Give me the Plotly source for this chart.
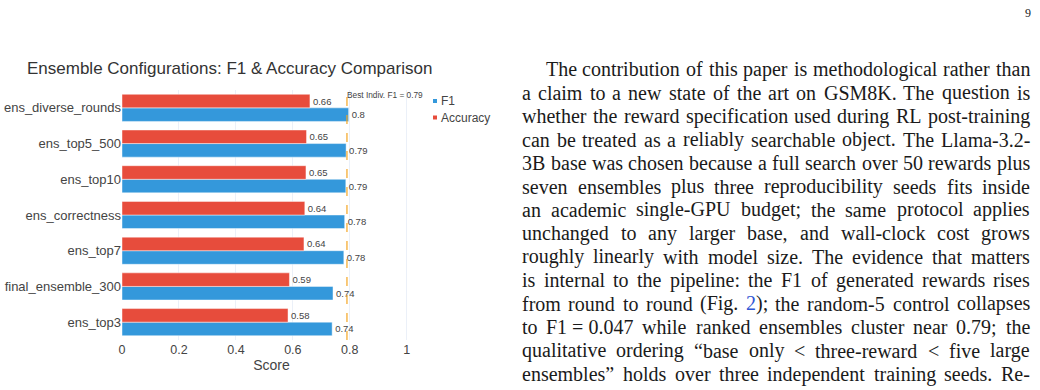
import html
import plotly.graph_objects as go

# ---------------- data ----------------
categories = ["ens_top3", "final_ensemble_300", "ens_top7", "ens_correctness",
              "ens_top10", "ens_top5_500", "ens_diverse_rounds"]
f1_scores = [0.738, 0.741, 0.779, 0.782, 0.786, 0.787, 0.796]
acc_scores = [0.583, 0.588, 0.639, 0.642, 0.646, 0.648, 0.660]
best_indiv_f1 = 0.79
x_tick_values = [0, 0.2, 0.4, 0.6, 0.8, 1]
x_tick_labels = ["0", "0.2", "0.4", "0.6", "0.8", "1"]
series_names = ["F1", "Accuracy"]
series_colors = ["#3498db", "#e74c3c"]
title_text = "Ensemble Configurations: F1 &amp; Accuracy Comparison"
x_title = "Score"
best_label = "Best Indiv. F1 = 0.79"
page_number = "9"
paragraph_lines = [
    "The contribution of this paper is methodological rather than",
    "a claim to a new state of the art on GSM8K. The question is",
    "whether the reward specification used during RL post-training",
    "can be treated as a reliably searchable object. The Llama-3.2-",
    "3B base was chosen because a full search over 50 rewards plus",
    "seven ensembles plus three reproducibility seeds fits inside",
    "an academic single-GPU budget; the same protocol applies",
    "unchanged to any larger base, and wall-clock cost grows",
    "roughly linearly with model size. The evidence that matters",
    "is internal to the pipeline: the F1 of generated rewards rises",
    "from round to round (Fig. 2); the random-5 control collapses",
    "to F1\u00a0=\u00a00.047 while ranked ensembles cluster near 0.79; the",
    "qualitative ordering \u201cbase only < three-reward < five large",
    "ensembles\u201d holds over three independent training seeds. Re-",
]

# ---------------- layout geometry ----------------
W, H = 1040, 390
ML, MR, MT, MB = 122, 619, 90, 50
PW = W - ML - MR
PH = H - MT - MB


def px_x(px):
    return (px - ML) / PW


def px_y(py):
    return (H - MB - py) / PH


fig = go.Figure()
for name, vals, col in zip(series_names, [f1_scores, acc_scores], series_colors):
    fig.add_trace(go.Bar(
        y=categories, x=vals, orientation="h", name=name,
        marker=dict(color=col, line=dict(color="rgba(255,255,255,0.45)", width=1)),
        texttemplate="%{x:.2~f}", textposition="outside",
        textfont=dict(size=9.5, color="#444"),
        constraintext="none", cliponaxis=False, showlegend=False,
    ))

fig.add_shape(type="line", xref="x", yref="paper", x0=best_indiv_f1, x1=best_indiv_f1,
              y0=0, y1=1, line=dict(color="#f5a623", width=1.2, dash="dash"))

annotations = [dict(x=best_indiv_f1, y=1.0, xref="x", yref="paper", text=best_label,
                    showarrow=False, xanchor="left", yanchor="top",
                    font=dict(size=8.3, color="#444"), borderpad=0, borderwidth=0)]

# manual legend
legend_y = [101, 117.5]
for name, col, ly in zip(series_names, series_colors, legend_y):
    fig.add_shape(type="rect", xref="paper", yref="paper",
                  x0=px_x(433), x1=px_x(437), y0=px_y(ly + 2), y1=px_y(ly - 2),
                  fillcolor=col, line=dict(width=0))
    annotations.append(dict(x=px_x(441), y=px_y(ly), xref="paper", yref="paper",
                            text=name, showarrow=False, xanchor="left", yanchor="middle",
                            font=dict(size=12, color="#444"), borderpad=0, borderwidth=0))

# ---------------- paragraph text (justified) ----------------
TIMES = {' ': 250, '\u00a0': 250, '.': 250, ',': 250, ';': 278, ':': 278, '-': 333,
         '(': 333, ')': 333, '=': 564, '<': 564, '\u201c': 444, '\u201d': 444}
TIMES.update(dict(zip("abcdefghijklmnopqrstuvwxyz",
                      [444, 500, 444, 500, 444, 333, 500, 500, 278, 278, 500, 278, 778,
                       500, 500, 500, 500, 333, 389, 278, 500, 500, 722, 500, 500, 444])))
TIMES.update(dict(zip("ABCDEFGHIJKLMNOPQRSTUVWXYZ",
                      [722, 667, 667, 722, 611, 556, 722, 722, 333, 389, 722, 611, 889,
                       722, 722, 556, 722, 667, 556, 611, 722, 722, 944, 722, 722, 611])))
TIMES.update({d: 500 for d in "0123456789"})

FS = 20
LEFT, RIGHT, INDENT = 522, 1030, 23.5
LINE0, LSTEP = 71.5, 23.45


def wwidth(w):
    return sum(TIMES.get(c, 500) for c in w) * FS / 1000.0


for i, line in enumerate(paragraph_lines):
    words = line.split(" ")
    start = LEFT + (INDENT if i == 0 else 0)
    widths = [wwidth(w) for w in words]
    gap = (RIGHT - start - sum(widths)) / (len(words) - 1)
    xcur = start
    base_mid = LINE0 + i * LSTEP - 2.25
    for w, wd in zip(words, widths):
        txt = html.escape(w, quote=False)
        if w == "2);":
            txt = "<span style='color:#2f55d4'>2</span>);"
        annotations.append(dict(x=px_x(xcur), y=px_y(base_mid), xref="paper", yref="paper",
                                text=txt, showarrow=False, xanchor="left", yanchor="middle",
                                font=dict(family="Liberation Serif, Times New Roman, serif",
                                          size=FS, color="#1a1a1a"),
                                borderpad=0, borderwidth=0))
        xcur += wd + gap

annotations.append(dict(x=px_x(1031), y=px_y(13), xref="paper", yref="paper",
                        text=page_number, showarrow=False, xanchor="right", yanchor="middle",
                        font=dict(family="Liberation Serif, Times New Roman, serif",
                                  size=12, color="#1a1a1a"), borderpad=0, borderwidth=0))

fig.update_layout(
    template="plotly_white",
    width=W, height=H,
    margin=dict(l=ML, r=MR, t=MT, b=MB, autoexpand=False),
    font=dict(family="Arial, Liberation Sans, sans-serif", color="#444"),
    title=dict(text=title_text, x=27 / W, xref="container", xanchor="left",
               y=1 - 68 / H, yref="container", yanchor="middle",
               font=dict(size=17, color="#333")),
    barmode="group", bargap=0.24, bargroupgap=0,
    showlegend=False,
    paper_bgcolor="white", plot_bgcolor="white",
    annotations=annotations,
)
fig.update_xaxes(range=[0, 1.05], tickvals=x_tick_values, ticktext=x_tick_labels,
                 tickfont=dict(size=12.5, color="#444"), automargin=False,
                 title=dict(text=x_title, font=dict(size=14, color="#444"), standoff=4),
                 gridcolor="#EBF0F8", zeroline=False, showline=False)
fig.update_yaxes(type="category", categoryorder="array", categoryarray=categories,
                 tickfont=dict(size=13, color="#444"), automargin=False,
                 showgrid=False, zeroline=False, showline=False)

fig.write_html("out.html")
